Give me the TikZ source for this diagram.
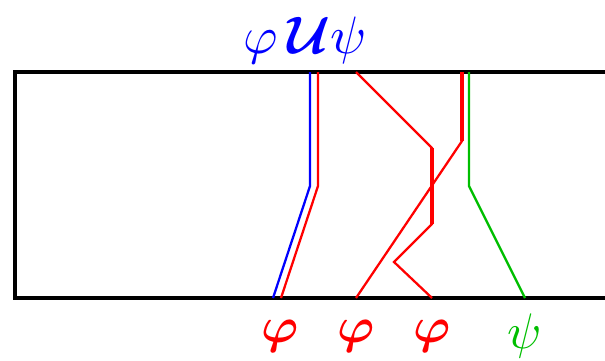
\documentclass[tikz,border=0pt]{standalone}
\usepackage{amsmath,amssymb}
\usepackage{graphicx}
\usepackage{tikz}
\definecolor{grn}{RGB}{0,190,0}
\newcommand{\biglbl}[2]{\scalebox{#1}{$#2$}}

\begin{document}
\begin{tikzpicture}[x=0.75pt,y=-0.75pt,
	track/.style={line width=1.7pt},
	lbl/.style={inner sep=0pt}]
	\useasboundingbox (0,0) rectangle (605,360);
	% frame
	\draw[line width=2.4pt] (605,72) -- (15,72) -- (15,298) -- (605,298);
	% labels
	\node[lbl,blue] (U) at (305,40) {\biglbl{3.95}{\varphi\,\boldsymbol{\mathcal{U}}\psi}};
	\node[lbl,red] (P1) at (280,336) {\biglbl{3.75}{\boldsymbol{\varphi}}};
	\node[lbl,red] (P2) at (356,336) {\biglbl{3.75}{\boldsymbol{\varphi}}};
	\node[lbl,red] (P3) at (432,336) {\biglbl{3.75}{\boldsymbol{\varphi}}};
	\node[lbl,grn] (S1) at (525,336) {\biglbl{3.75}{\psi}};
	% tracks
	\draw[track,blue] (310,72) -- (310,186) -- (273,298);
	\draw[track,red] (318,72) -- (318,186) -- (281,298);
	\draw[track,red] (356,72) -- (432,148) -- (432,224) -- (394,262) -- (432,298);
	\draw[track,red,line width=3pt] (432,148) -- (432,224);
	\draw[track,red] (356,298) -- (462,141) -- (462,72);
	\draw[track,red,line width=3pt] (462,141) -- (462,72);
	\draw[track,grn] (469,72) -- (469,186) -- (525,298);
\end{tikzpicture}
\end{document}
